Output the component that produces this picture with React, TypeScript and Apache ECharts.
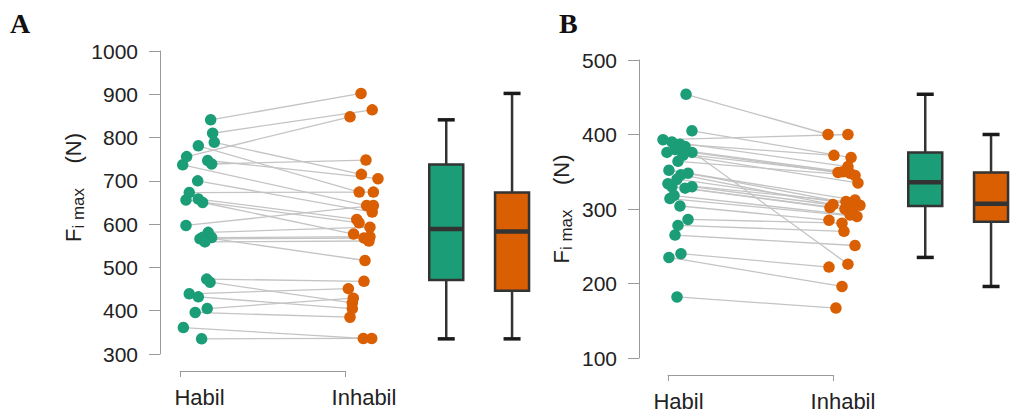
import React, { useEffect, useRef } from 'react';
import * as echarts from 'echarts';

// ---------- data ----------
const groups = ['Habil', 'Inhabil'];

// Panel A (paired by index)
const habilA = [841, 810, 756, 789, 781, 747, 739, 737, 700, 673, 658, 656, 650, 597, 581, 570, 569, 566, 559, 473, 466, 439, 432, 405, 396, 361, 335];
const habilAJitter = [0.068, 0.08, -0.078, 0.09, -0.007, 0.05, 0.074, -0.102, -0.011, -0.062, -0.007, -0.082, 0.019, -0.082, 0.053, 0.021, 0.074, 0.003, 0.033, 0.044, 0.064, -0.062, -0.007, 0.047, -0.026, -0.098, 0.013];
const inhabilA = [902, 864, 848, 715, 674, 705, 748, 643, 628, 674, 611, 603, 577, 643, 593, 516, 571, 568, 561, 468, 418, 451, 405, 429, 385, 336, 336];
const inhabilAJitter = [-0.018, 0.05, -0.085, -0.016, -0.029, 0.085, 0.012, 0.016, 0.05, 0.057, -0.044, -0.03, -0.063, 0.057, 0.036, 0.006, 0.036, 0, 0.03, 0, -0.071, -0.095, -0.071, -0.065, -0.085, -0.004, 0.047];

// Panel B (paired by index)
const habilB = [454, 405, 393, 390, 387, 384, 380, 376, 376, 372, 364, 352, 348, 346, 340, 334, 330, 330, 328, 318, 314, 304, 286, 278, 265, 240, 235, 182];
const habilBJitter = [0.046, 0.082, -0.094, -0.04, 0.009, 0.04, -0.021, 0.082, -0.07, 0.027, -0.003, -0.058, 0.058, 0.015, -0.009, -0.064, -0.04, 0.082, 0.04, -0.027, -0.052, 0.009, 0.058, -0.003, -0.021, 0.015, -0.058, -0.009];
const inhabilB = [400, 369, 400, 357, 372, 226, 350, 349, 348, 335, 345, 312, 308, 306, 305, 310, 302, 302, 300, 292, 290, 285, 281, 270, 251, 222, 196, 167];
const inhabilBJitter = [-0.091, 0.049, 0.03, 0.03, -0.055, 0.03, 0, -0.03, 0.043, 0.091, 0.073, 0.073, 0.03, -0.061, 0.103, 0.018, -0.079, 0.061, 0.012, 0.043, 0.085, -0.085, -0.006, 0.006, 0.073, -0.085, -0.006, -0.043];

// Boxplot stats: [min, Q1, median, Q3, max]
const boxA = [
  [335, 471, 589, 738, 841],
  [335, 446, 583, 673, 902],
];
const boxB = [
  [235, 304, 336, 376, 454],
  [196, 283, 307, 349, 400],
];
const boxX = [2.5, 2.9];

const yRangeA = { min: 300, max: 1000, interval: 100 };
const yRangeB = { min: 100, max: 500, interval: 100 };

const GREEN = '#1b9e77';
const ORANGE = '#d95f02';
const FONT = '"Liberation Sans", Arial, Helvetica, sans-serif';

function boxRender(params: any, api: any) {
  const x = api.value(0);
  const p = (v: number) => api.coord([x, v]);
  const lo = p(api.value(1));
  const q1 = p(api.value(2));
  const med = p(api.value(3));
  const q3 = p(api.value(4));
  const hi = p(api.value(5));
  const cx = lo[0];
  const hw = 17;
  const cw = 8.5;
  const color = api.visual('color');
  const dark = '#333333';
  return {
    type: 'group',
    children: [
      { type: 'line', shape: { x1: cx, y1: hi[1], x2: cx, y2: q3[1] }, style: { stroke: dark, lineWidth: 2.5 } },
      { type: 'line', shape: { x1: cx, y1: q1[1], x2: cx, y2: lo[1] }, style: { stroke: dark, lineWidth: 2.5 } },
      { type: 'line', shape: { x1: cx - cw, y1: hi[1], x2: cx + cw, y2: hi[1] }, style: { stroke: '#1a1a1a', lineWidth: 3.5 } },
      { type: 'line', shape: { x1: cx - cw, y1: lo[1], x2: cx + cw, y2: lo[1] }, style: { stroke: '#1a1a1a', lineWidth: 3.5 } },
      { type: 'rect', shape: { x: cx - hw, y: q3[1], width: hw * 2, height: q1[1] - q3[1] }, style: { fill: color, stroke: dark, lineWidth: 2.5 } },
      { type: 'line', shape: { x1: cx - hw, y1: med[1], x2: cx + hw, y2: med[1] }, style: { stroke: dark, lineWidth: 4.5 } },
    ],
  };
}

function panel(
  gi: number,
  habil: number[], habilJ: number[], inhabil: number[], inhabilJ: number[],
  box: number[][],
) {
  const ax = gi * 2;
  const hPts = habil.map((v, i) => [1 + habilJ[i], v]);
  const iPts = inhabil.map((v, i) => [2 + inhabilJ[i], v]);
  return [
    {
      type: 'lines',
      coordinateSystem: 'cartesian2d',
      xAxisIndex: ax, yAxisIndex: ax,
      silent: true,
      lineStyle: { color: '#c4c4c4', width: 1.3, opacity: 1 },
      data: hPts.map((h, i) => ({ coords: [h, iPts[i]] })),
    },
    {
      type: 'scatter', xAxisIndex: ax, yAxisIndex: ax, clip: false,
      symbolSize: 11.5, itemStyle: { color: GREEN, opacity: 1 }, data: hPts,
    },
    {
      type: 'scatter', xAxisIndex: ax, yAxisIndex: ax, clip: false,
      symbolSize: 11.5, itemStyle: { color: ORANGE, opacity: 1 }, data: iPts,
    },
    {
      type: 'custom', xAxisIndex: ax, yAxisIndex: ax, clip: false,
      renderItem: boxRender,
      data: box.map((b, i) => ({ value: [boxX[i], ...b], itemStyle: { color: i === 0 ? GREEN : ORANGE } })),
    },
  ];
}

function yAxisMain(gridIndex: number, r: any, gap: number, shift: number) {
  return {
    type: 'value', gridIndex, min: r.min, max: r.max, interval: r.interval,
    axisLine: { show: true, lineStyle: { color: '#9a9a9a', width: 1 } },
    axisTick: { show: true, length: 11, lineStyle: { color: '#9a9a9a' } },
    axisLabel: { fontSize: 21, color: '#222', fontFamily: FONT, margin: 22, formatter: (v: number) => String(v) },
    splitLine: { show: false },
    name: '{f|F}{s|i max}{f|    (N)}',
    nameLocation: 'middle', nameRotate: 90, nameGap: gap,
    nameTextStyle: {
      color: '#222', fontFamily: FONT, padding: [0, 0, 0, shift],
      rich: {
        f: { fontSize: 22, lineHeight: 28, fontFamily: FONT, color: '#222' },
        s: { fontSize: 17, lineHeight: 17, verticalAlign: 'bottom', fontFamily: FONT, color: '#222' },
      },
    },
  };
}

function xAxisMain(gridIndex: number) {
  return {
    type: 'value', gridIndex, min: 0.76, max: 3.0,
    axisLine: { show: false }, axisTick: { show: false }, splitLine: { show: false },
    axisLabel: {
      customValues: [1, 2], fontSize: 22, color: '#222', fontFamily: FONT, margin: 32,
      formatter: (v: number) => groups[Math.round(v) - 1] ?? '',
    },
  };
}

function xAxisBracket(gridIndex: number) {
  return {
    type: 'value', gridIndex, min: 0, max: 1, interval: 1, offset: 17,
    axisLine: { show: true, onZero: false, lineStyle: { color: '#9a9a9a', width: 1 } },
    axisTick: { show: true, length: 6, lineStyle: { color: '#9a9a9a' } },
    axisLabel: { show: false }, splitLine: { show: false },
  };
}

function hiddenY(gridIndex: number, r: any) {
  return { type: 'value', gridIndex, min: r.min, max: r.max, show: false };
}

export default function App() {
  const ref = useRef<HTMLDivElement>(null);
  useEffect(() => {
    if (!ref.current) return;
    const chart = echarts.init(ref.current, null, { renderer: 'svg' });
    chart.setOption({
      animation: false,
      backgroundColor: '#ffffff',
      grid: [
        { left: 160, top: 51, width: 368.5, height: 303 },
        { left: 180, top: 51, width: 165, height: 303 },
        { left: 639, top: 60, width: 368.5, height: 298 },
        { left: 668, top: 60, width: 165, height: 298 },
      ],
      xAxis: [xAxisMain(0), xAxisBracket(1), xAxisMain(2), xAxisBracket(3)],
      yAxis: [
        yAxisMain(0, yRangeA, 70, 30),
        hiddenY(1, yRangeA),
        yAxisMain(2, yRangeB, 64, 0),
        hiddenY(3, yRangeB),
      ],
      graphic: [
        { type: 'text', left: 10, top: 9, style: { text: 'A', fontSize: 28, fontWeight: 'bold', fontFamily: '"Liberation Serif", "Times New Roman", serif', fill: '#111' } },
        { type: 'text', left: 559, top: 9, style: { text: 'B', fontSize: 28, fontWeight: 'bold', fontFamily: '"Liberation Serif", "Times New Roman", serif', fill: '#111' } },
      ],
      series: [
        ...panel(0, habilA, habilAJitter, inhabilA, inhabilAJitter, boxA),
        ...panel(1, habilB, habilBJitter, inhabilB, inhabilBJitter, boxB),
      ],
    });
    return () => chart.dispose();
  }, []);
  return (
    <div
      ref={ref}
      style={{ position: 'fixed', left: 0, top: 0, width: 1012, height: 414, background: '#fff' }}
    />
  );
}
